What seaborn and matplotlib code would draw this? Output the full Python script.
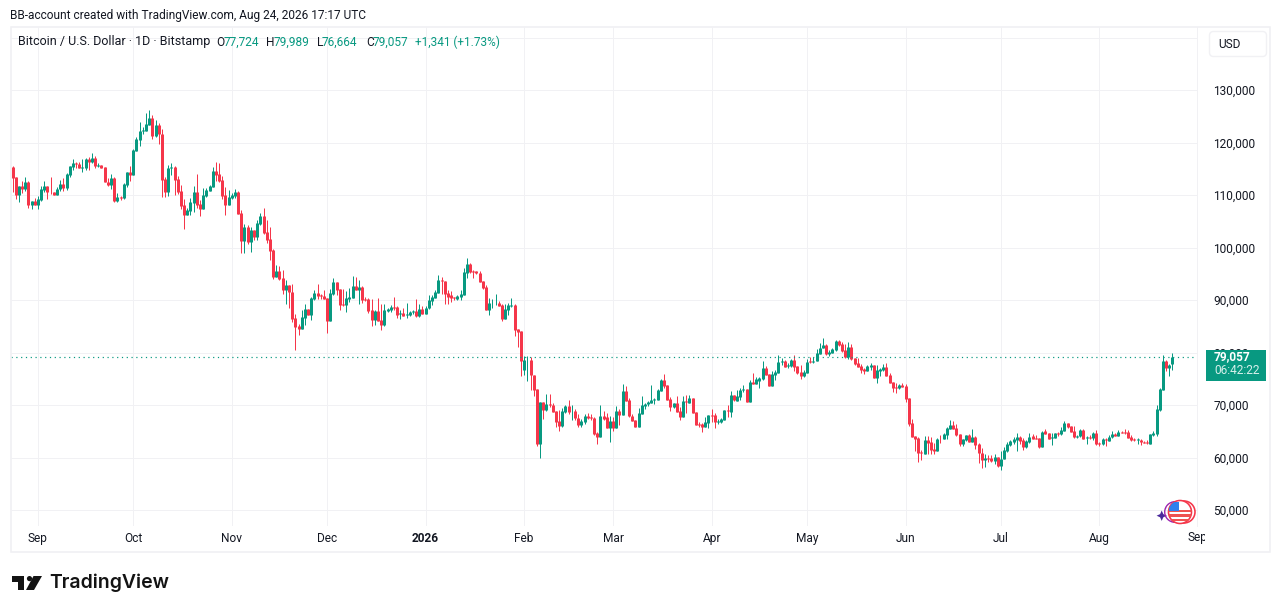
import matplotlib
matplotlib.use("Agg")
import matplotlib.pyplot as plt
import matplotlib.dates as mdates
from matplotlib.patches import Circle, FancyBboxPatch, Polygon, Rectangle, Wedge
from matplotlib.transforms import Bbox
import pandas as pd
import seaborn as sns

# daily candles, thousands of USD
first_day = "2025-08-24"
opens = [
    115.3,113.4,110.0,111.7,111.1,112.5,108.1,108.9,108.1,109.0,
    110.9,111.7,110.6,110.6,110.0,111.1,112.1,111.3,113.8,115.3,
    116.1,115.9,115.2,115.1,116.9,116.3,117.0,115.5,115.7,115.3,
    112.5,111.9,113.2,108.9,109.6,109.4,111.9,114.4,113.8,118.4,
    120.5,122.2,122.2,123.3,124.7,121.2,123.3,121.6,113.0,110.6,
    115.2,115.3,113.0,110.8,108.1,106.2,106.9,108.5,110.6,108.3,
    107.3,109.8,110.8,111.5,114.6,114.0,112.9,110.0,108.1,109.4,
    109.8,110.6,106.6,101.2,103.9,101.0,103.3,102.0,104.5,106.0,
    103.0,101.6,99.5,94.4,95.5,94.2,91.9,92.9,91.5,86.6,
    85.1,84.5,86.6,88.3,87.1,90.2,91.3,90.9,90.8,90.4,
    86.0,91.1,93.4,92.1,89.2,89.0,90.2,90.4,92.7,91.9,
    92.5,90.2,90.2,88.1,86.2,87.9,86.2,85.2,87.9,88.1,
    88.7,88.7,87.4,87.5,87.1,87.1,87.8,87.9,87.0,88.3,
    87.3,88.5,89.8,90.4,91.3,93.8,93.6,91.3,90.9,90.6,
    90.2,90.6,91.0,95.1,96.9,95.5,95.5,95.1,93.6,92.5,
    88.1,89.4,89.4,89.5,89.0,86.4,88.1,88.9,89.0,84.5,
    84.1,76.7,78.5,78.6,75.7,73.0,62.6,70.6,69.0,70.2,
    70.0,68.9,67.0,66.0,68.7,69.8,68.8,68.9,67.5,66.2,
    66.8,67.9,67.7,67.5,64.7,63.9,67.9,67.7,65.6,67.0,
    65.6,68.9,68.1,72.7,71.0,67.9,67.1,65.8,68.3,69.8,
    70.2,70.4,70.9,71.0,72.7,74.8,73.8,71.1,69.6,70.4,
    68.9,67.7,70.8,70.4,71.3,68.7,66.4,66.4,65.8,66.6,
    68.1,68.1,66.8,66.8,67.1,69.0,68.7,71.9,70.8,71.5,
    72.9,73.0,70.6,74.4,74.0,74.6,75.0,77.0,75.9,73.6,
    75.7,76.1,78.2,78.4,77.5,77.4,78.6,77.4,76.3,75.5,
    76.1,78.4,78.2,78.4,79.7,80.9,81.4,79.8,79.9,80.5,
    82.2,81.6,80.5,79.1,81.0,78.9,78.0,77.4,76.9,76.5,
    77.3,77.6,75.1,76.5,76.7,77.2,75.7,74.4,73.4,73.2,
    73.8,73.6,71.3,66.6,64.1,63.7,61.0,60.7,63.3,63.0,
    61.6,61.2,63.6,63.5,64.3,65.4,66.2,65.6,64.5,62.6,
    63.3,64.3,63.0,63.9,62.6,60.9,59.5,59.9,59.9,59.3,
    60.1,58.4,59.7,61.2,62.4,63.0,63.3,63.9,63.3,62.0,
    63.0,64.1,63.7,63.7,62.0,65.0,64.7,63.8,63.7,64.7,
    64.5,65.0,66.6,66.0,65.0,63.9,64.1,65.2,63.8,63.9,
    63.7,64.7,62.8,62.6,63.5,63.1,63.9,64.5,64.1,64.9,
    64.9,64.9,63.9,63.6,63.3,63.3,63.0,62.9,62.6,64.3,
    64.5,69.0,72.9,78.4,77.0,77.724,
]
closes = [
    113.2,110.0,111.7,111.1,112.5,108.1,108.9,108.1,109.2,111.1,
    111.7,110.6,110.5,110.0,111.1,112.1,111.3,114.0,115.5,116.1,
    115.9,115.1,115.3,116.9,116.3,117.0,115.5,115.7,115.1,112.5,
    111.9,113.2,108.9,109.6,109.4,112.1,114.4,113.8,118.6,120.7,
    122.2,122.4,123.5,124.7,121.2,123.3,121.6,112.9,110.6,115.1,
    115.3,112.9,110.6,107.9,106.2,107.1,108.7,110.6,108.1,107.3,
    110.0,110.9,111.7,114.6,113.8,112.7,109.8,108.1,109.6,110.0,
    110.6,106.4,101.2,103.9,101.0,103.3,102.0,104.7,106.0,102.8,
    101.4,99.3,94.4,95.5,94.0,91.9,92.9,91.5,86.4,84.9,
    84.5,86.8,88.3,87.1,90.4,91.3,90.8,90.8,90.2,86.0,
    91.3,93.4,91.9,89.0,89.0,90.4,90.6,92.7,91.9,92.5,
    90.0,90.0,87.9,86.2,87.9,86.0,85.2,88.1,88.3,88.7,
    88.5,87.1,87.5,87.0,87.3,87.7,87.9,87.0,88.3,87.3,
    88.5,90.0,90.6,91.5,93.8,93.7,91.1,90.6,90.4,90.4,
    90.8,91.1,95.3,96.9,95.3,95.3,95.1,93.4,92.3,88.1,
    89.4,89.5,89.5,88.9,86.4,88.3,89.0,89.0,84.3,83.9,
    78.4,78.6,78.6,75.7,72.9,62.6,70.6,69.0,70.2,70.0,
    68.7,66.8,66.0,68.9,69.8,68.7,68.9,67.5,66.2,67.0,
    67.9,67.6,67.5,64.5,63.9,67.9,67.3,65.6,67.0,65.6,
    68.9,68.1,72.7,70.8,67.9,67.0,65.8,68.5,70.0,70.2,
    70.6,70.9,71.1,72.9,74.8,73.6,71.0,69.6,70.4,68.7,
    67.7,70.8,70.6,71.3,68.5,66.2,66.2,65.8,66.8,68.1,
    67.9,66.8,67.0,67.4,69.0,68.8,71.9,71.0,71.7,72.9,
    73.0,70.6,74.4,74.0,75.0,75.1,77.0,75.7,73.6,75.9,
    76.3,78.2,78.4,77.2,77.6,78.6,77.2,76.1,75.5,76.3,
    78.2,78.2,78.4,79.9,80.9,81.4,79.7,80.1,80.7,82.2,
    81.4,80.3,79.1,81.0,78.8,77.8,77.2,76.7,76.5,77.4,
    77.6,75.1,76.7,76.9,77.2,75.5,74.2,73.2,73.2,73.8,
    73.4,71.1,66.4,63.9,63.5,60.9,60.9,63.3,62.8,61.4,
    61.3,63.5,63.5,64.5,65.6,66.2,65.4,64.3,62.6,63.5,
    64.3,63.0,63.9,62.4,60.9,59.5,59.9,59.7,59.3,60.1,
    58.4,59.7,61.4,62.6,63.1,63.5,63.9,63.1,62.0,63.1,
    63.9,63.5,63.5,62.0,64.8,64.5,63.5,63.9,64.7,64.5,
    65.2,66.6,65.8,64.9,63.9,64.1,65.2,63.5,63.9,63.8,
    64.7,62.6,62.6,63.5,63.3,63.9,64.5,64.1,64.9,64.7,
    64.7,63.7,63.3,63.4,63.5,63.0,62.8,62.7,64.5,64.7,
    69.2,73.0,78.4,77.1,77.6,79.057,
]
highs = [
    115.5,113.4,111.7,112.7,113.4,112.7,108.9,109.4,109.8,111.7,
    112.7,111.7,113.4,110.6,111.5,112.9,113.2,114.2,115.5,116.9,
    116.3,116.3,116.9,117.0,117.2,118.0,117.4,116.1,115.7,115.3,
    113.2,114.0,113.4,110.4,109.8,112.3,114.4,115.5,118.8,121.0,
    123.9,123.0,125.6,126.2,125.2,124.3,123.7,122.6,113.4,115.7,
    116.1,115.5,113.6,111.9,109.2,107.5,109.4,111.7,114.0,109.0,
    111.3,111.3,111.9,115.3,116.3,116.1,113.6,111.5,110.9,110.4,
    111.1,110.8,107.1,104.4,104.3,103.9,103.3,105.2,106.6,107.5,
    105.2,103.9,99.7,96.7,96.5,95.7,93.8,92.9,93.0,87.3,
    85.4,88.1,89.2,88.3,90.6,91.9,93.0,91.1,91.9,90.4,
    92.1,94.2,93.4,92.1,92.1,91.7,92.3,94.6,94.4,93.8,
    92.7,90.6,90.4,90.2,88.1,90.4,89.2,89.2,88.5,89.0,
    90.6,88.9,88.1,88.5,89.4,87.9,88.1,90.2,89.2,88.9,
    88.9,91.0,91.0,91.9,94.8,94.4,93.6,91.9,91.7,90.6,
    91.0,91.9,96.1,98.0,97.0,95.7,95.5,95.5,93.6,92.9,
    90.4,90.2,91.1,89.8,89.2,89.2,89.4,90.4,89.2,84.5,
    84.1,79.3,79.3,79.1,75.7,73.0,70.6,70.6,72.1,72.1,
    70.4,68.9,69.0,69.4,70.0,71.0,70.0,69.2,68.3,67.3,
    68.3,68.5,68.3,67.7,64.9,70.0,68.9,68.5,67.9,67.7,
    69.8,69.2,74.0,73.6,71.3,68.3,67.1,69.4,71.7,70.4,
    70.8,73.8,71.3,73.0,75.0,75.9,73.8,71.5,70.4,71.7,
    69.6,71.7,71.9,71.9,71.3,68.7,66.8,66.6,67.7,68.1,
    69.2,68.5,67.3,67.5,69.0,70.0,72.7,71.9,72.9,73.2,
    73.8,73.0,74.8,76.1,75.3,75.3,78.4,77.4,75.9,76.5,
    76.7,79.5,79.0,78.6,78.0,78.8,79.5,77.4,77.6,76.7,
    78.8,79.1,79.1,80.7,81.8,82.8,81.6,80.5,80.9,82.4,
    82.4,82.0,81.6,82.0,81.6,78.9,78.9,77.8,77.0,77.6,
    78.0,77.6,77.6,77.0,77.8,78.0,76.1,74.4,74.2,74.0,
    74.2,74.0,71.3,67.3,64.1,63.9,61.4,64.1,64.1,63.9,
    62.8,63.7,64.3,64.7,65.8,67.1,67.0,66.4,64.5,63.5,
    64.3,64.5,65.4,64.1,62.8,61.8,60.7,60.5,60.5,60.7,
    60.1,61.2,62.0,63.0,63.3,63.9,64.7,64.1,63.7,63.3,
    64.7,64.5,64.3,63.7,65.0,65.4,64.7,64.7,64.7,64.9,
    65.8,67.0,66.6,66.0,66.0,64.3,65.4,65.4,64.1,64.3,
    64.9,65.2,63.0,63.7,63.7,64.3,65.0,64.7,65.2,65.0,
    65.4,65.2,64.3,63.7,63.7,63.5,63.1,63.3,64.5,65.0,
    70.0,73.2,79.5,78.6,77.8,79.989,
]
lows = [
    110.6,109.2,108.7,110.4,110.8,107.5,107.3,108.1,107.3,108.9,
    110.6,109.2,110.2,110.0,110.0,110.8,110.8,110.9,113.4,114.8,
    115.1,115.1,114.4,114.8,114.8,116.1,115.1,115.3,115.1,112.5,
    111.7,111.1,108.7,108.7,109.0,109.2,111.5,112.7,113.8,118.4,
    119.3,121.6,122.2,123.3,120.7,121.0,119.7,109.6,109.6,109.8,
    113.8,110.0,110.2,107.3,103.5,106.2,106.2,106.8,107.5,106.0,
    107.3,109.6,110.8,111.5,112.7,112.5,109.2,106.2,108.1,109.2,
    109.4,106.4,98.9,98.9,100.7,99.1,101.4,101.4,104.3,102.6,
    100.9,97.6,94.0,94.4,93.8,91.1,89.2,88.5,85.8,80.5,
    83.3,84.5,85.2,87.1,86.2,90.0,90.2,90.2,90.2,83.7,
    86.0,90.9,90.9,88.1,88.9,87.7,89.6,90.4,91.9,89.2,
    89.4,89.8,87.5,85.0,85.2,86.0,84.3,85.0,87.7,87.7,
    88.1,86.6,86.4,87.0,86.6,87.0,87.3,86.8,86.8,87.3,
    87.3,88.3,89.0,90.4,91.3,91.1,89.2,89.2,89.6,90.0,
    90.0,90.0,91.0,94.2,95.1,94.2,94.9,93.4,92.1,88.1,
    87.1,88.5,89.0,88.9,86.0,86.4,87.1,88.7,83.1,81.0,
    75.5,75.7,74.6,72.9,71.7,62.2,59.9,67.3,68.9,69.6,
    68.7,65.8,65.0,65.8,68.5,68.3,67.1,67.1,65.8,65.8,
    66.4,67.3,67.1,64.3,62.6,63.9,67.1,65.6,62.95,65.0,
    65.6,66.2,68.1,70.8,67.7,67.0,65.8,65.8,68.3,69.2,
    69.8,70.4,70.2,71.0,72.7,73.2,71.0,68.9,69.4,68.7,
    67.1,67.7,68.5,70.4,68.5,66.2,65.8,64.9,65.8,65.6,
    66.8,65.6,66.4,66.6,67.1,67.7,67.7,70.8,70.8,71.0,
    72.5,70.6,70.6,74.0,74.0,73.2,74.8,75.7,73.6,73.6,
    74.8,76.1,77.6,77.2,77.0,77.2,76.5,75.9,75.0,75.3,
    76.1,78.0,78.0,78.4,79.7,80.9,79.5,79.3,79.9,80.3,
    81.2,80.1,78.9,78.8,78.6,77.6,77.2,76.1,75.9,76.5,
    76.7,75.1,74.2,75.5,76.5,75.5,74.2,72.5,72.3,73.0,
    73.4,70.6,66.0,63.9,61.2,59.1,59.5,60.7,60.7,60.7,
    60.7,61.2,62.8,63.5,63.5,65.4,65.4,64.1,62.2,62.2,
    63.1,63.0,63.0,61.6,59.0,58.0,58.2,59.1,59.1,58.8,
    58.2,57.6,59.7,61.0,62.2,62.6,61.2,62.6,61.4,61.8,
    62.8,63.5,63.5,61.8,62.0,64.5,63.5,62.4,63.7,64.1,
    64.3,65.0,65.6,64.9,63.7,63.7,63.9,63.5,62.6,63.5,
    63.3,62.4,62.2,62.4,62.2,63.1,63.7,64.1,64.1,64.7,
    64.5,63.7,63.1,63.1,62.6,62.4,62.8,62.6,62.6,64.1,
    64.1,68.9,72.9,76.5,75.5,76.664,
]

last_price = 79057
price_ticks = [50, 60, 70, 80, 90, 100, 110, 120, 130, 140]
price_labels = ["50,000", "60,000", "70,000", "80,000", "90,000", "100,000",
                "110,000", "120,000", "130,000", ""]
month_starts = ["2025-09-01", "2025-10-01", "2025-11-01", "2025-12-01", "2026-01-01", "2026-02-01",
                "2026-03-01", "2026-04-01", "2026-05-01", "2026-06-01", "2026-07-01", "2026-08-01"]
month_labels = ["Sep", "Oct", "Nov", "Dec", "2026", "Feb", "Mar", "Apr", "May", "Jun", "Jul", "Aug"]

GREEN = "#089981"
RED = "#f5364a"
GRID = "#f1f1f4"
TEXT = "#131722"
W, H = 1281, 613
PX = 0.72  # one pixel in points at dpi 100

sns.set_theme(style="white", rc={"lines.solid_capstyle": "butt"})
plt.rcParams["font.family"] = ["Roboto", "DejaVu Sans"]

dates = pd.date_range(first_day, periods=len(opens))
candles = pd.DataFrame({"date": dates, "open": opens, "high": highs, "low": lows, "close": closes})
candles["dir"] = ["up" if c >= o else "down" for o, c in zip(opens, closes)]
wicks = candles.melt(id_vars=["date", "dir"], value_vars=["low", "high"], value_name="price")
bodies = candles.melt(id_vars=["date", "dir"], value_vars=["open", "close"], value_name="price")
palette = {"up": GREEN, "down": RED}

fig = plt.figure(figsize=(W / 100, H / 100), dpi=100, facecolor="white")
# plot area runs from x=11 to 1197 and y=27 to 526
ax = fig.add_axes([11 / W, 1 - 526 / H, (1197 - 11) / W, (526 - 27) / H])

sns.lineplot(data=wicks, x="date", y="price", hue="dir", units="date", estimator=None,
             palette=palette, linewidth=1 * PX, legend=False, ax=ax, zorder=3)
sns.lineplot(data=bodies, x="date", y="price", hue="dir", units="date", estimator=None,
             palette=palette, linewidth=3 * PX, legend=False, ax=ax, zorder=4)

day0 = mdates.date2num(dates[0])
ax.set_xlim(day0 - 1.5 / 3.178, day0 + (1197 - 12.5) / 3.178)
ax.set_ylim(130 - (526 - 90) / 5.25, 130 + (90 - 27) / 5.25)

ax.axhline(last_price / 1000, color=GREEN, lw=1.2 * PX, ls=(0, (1, 3)), zorder=5)

ax.set_xticks(mdates.date2num(pd.to_datetime(month_starts)))
ax.set_xticklabels(month_labels, fontsize=8.6, color=TEXT)
ax.get_xticklabels()[4].set_fontweight("bold")
ax.yaxis.tick_right()
ax.set_yticks(price_ticks)
ax.set_yticklabels(price_labels, fontsize=8.6, color=TEXT)
ax.tick_params(axis="both", length=0)
ax.tick_params(axis="x", pad=4)
ax.tick_params(axis="y", pad=11.6)
ax.set_xlabel("")
ax.set_ylabel("")
ax.grid(True, color=GRID, lw=1 * PX)
ax.set_axisbelow(True)
for side in ["top", "left", "bottom"]:
    ax.spines[side].set_visible(False)
ax.spines["right"].set_color(GRID)
ax.spines["right"].set_linewidth(1 * PX)

# everything around the chart goes in one overlay measured in pixels
ov = fig.add_axes([0, 0, 1, 1], zorder=5)
ov.set_xlim(0, W)
ov.set_ylim(H, 0)
ov.axis("off")
ov.patch.set_alpha(0)

ov.add_patch(Rectangle((10.5, 27), 1259.5, 525, fill=False, ec="#f0f0f3", lw=1.6 * PX))
ov.text(10, 15, "BB-account created with TradingView.com, Aug 24, 2026 17:17 UTC",
        fontsize=8.6, color=TEXT, va="center")

ov.text(18, 42, "Bitcoin / U.S. Dollar · 1D · Bitstamp", fontsize=9.0, color=TEXT, va="center")
for x, s, color in [(216, "O", TEXT), (224, "77,724", GREEN), (266, "H", TEXT), (274, "79,989", GREEN),
                    (317, "L", TEXT), (322, "76,664", GREEN), (366, "C", TEXT), (373, "79,057", GREEN),
                    (415, "+1,341 (+1.73%)", GREEN)]:
    ov.text(x, 42, s, fontsize=8.6 if s[0] != "+" else 8.5, color=color, va="center")

# last "Sep" is cut by the edge of the time scale
sep = ov.text(1197, 538, "Sep", fontsize=8.6, color=TEXT, ha="center", va="center")
sep.set_clip_on(True)
sep.set_clip_box(Bbox([[1150, 0], [1205, H]]))

ov.add_patch(FancyBboxPatch((1209.5, 31.5), 57, 25, boxstyle="round,pad=0,rounding_size=4",
                            fc="white", ec=GRID, lw=1.4 * PX))
ov.text(1218, 44.5, "USD", fontsize=8.6, color=TEXT, va="center")

ov.add_patch(Rectangle((1206, 350), 60, 31, fc=GREEN, ec="none"))
ov.text(1214, 357, "79,057", fontsize=8.6, color="white", fontweight="bold", va="center")
ov.text(1214, 371, "06:42:22", fontsize=8.6, color="#d5efea", va="center")

# logo
ov.add_patch(Polygon([(12, 576), (24, 576), (24, 590), (18, 590), (18, 581.5), (12, 581.5)], fc="#131313", ec="none"))
ov.add_patch(Circle((29.5, 578.6), 2.6, fc="#131313", ec="none"))
ov.add_patch(Polygon([(33.5, 576), (42, 576), (34, 590), (26, 590)], fc="#131313", ec="none"))
ov.text(49, 583, "TradingView", family=["Inter", "DejaVu Sans"], fontsize=14, fontweight="semibold",
        color="#131313", va="center")

# event icons above the time scale
ov.add_patch(Polygon([(1161.7, 510.5), (1163.3, 514.1), (1166.8, 515.7), (1163.3, 517.3), (1161.7, 520.9),
                      (1160.1, 517.3), (1156.6, 515.7), (1160.1, 514.1)], fc="#4a2a9c", ec="none"))
ov.add_patch(Wedge((1175, 512), 11, 90, 270, width=1.4, fc="#9c27b0", ec="none"))
ov.add_patch(Circle((1184, 512), 11, fc="white", ec=RED, lw=1.6 * PX))
flag = Circle((1180, 512), 11.5, fc="white", ec=RED, lw=1.6 * PX)
ov.add_patch(flag)
for y in [511, 515.5, 520]:
    stripe = Rectangle((1168, y - 1.3), 24, 2.6, fc="#ef5350", ec="none")
    ov.add_patch(stripe)
    stripe.set_clip_path(flag)
canton = Rectangle((1169, 502), 10, 8.5, fc="#2f80ed", ec="none")
ov.add_patch(canton)
canton.set_clip_path(flag)

fig.savefig("out.png", dpi=100)
